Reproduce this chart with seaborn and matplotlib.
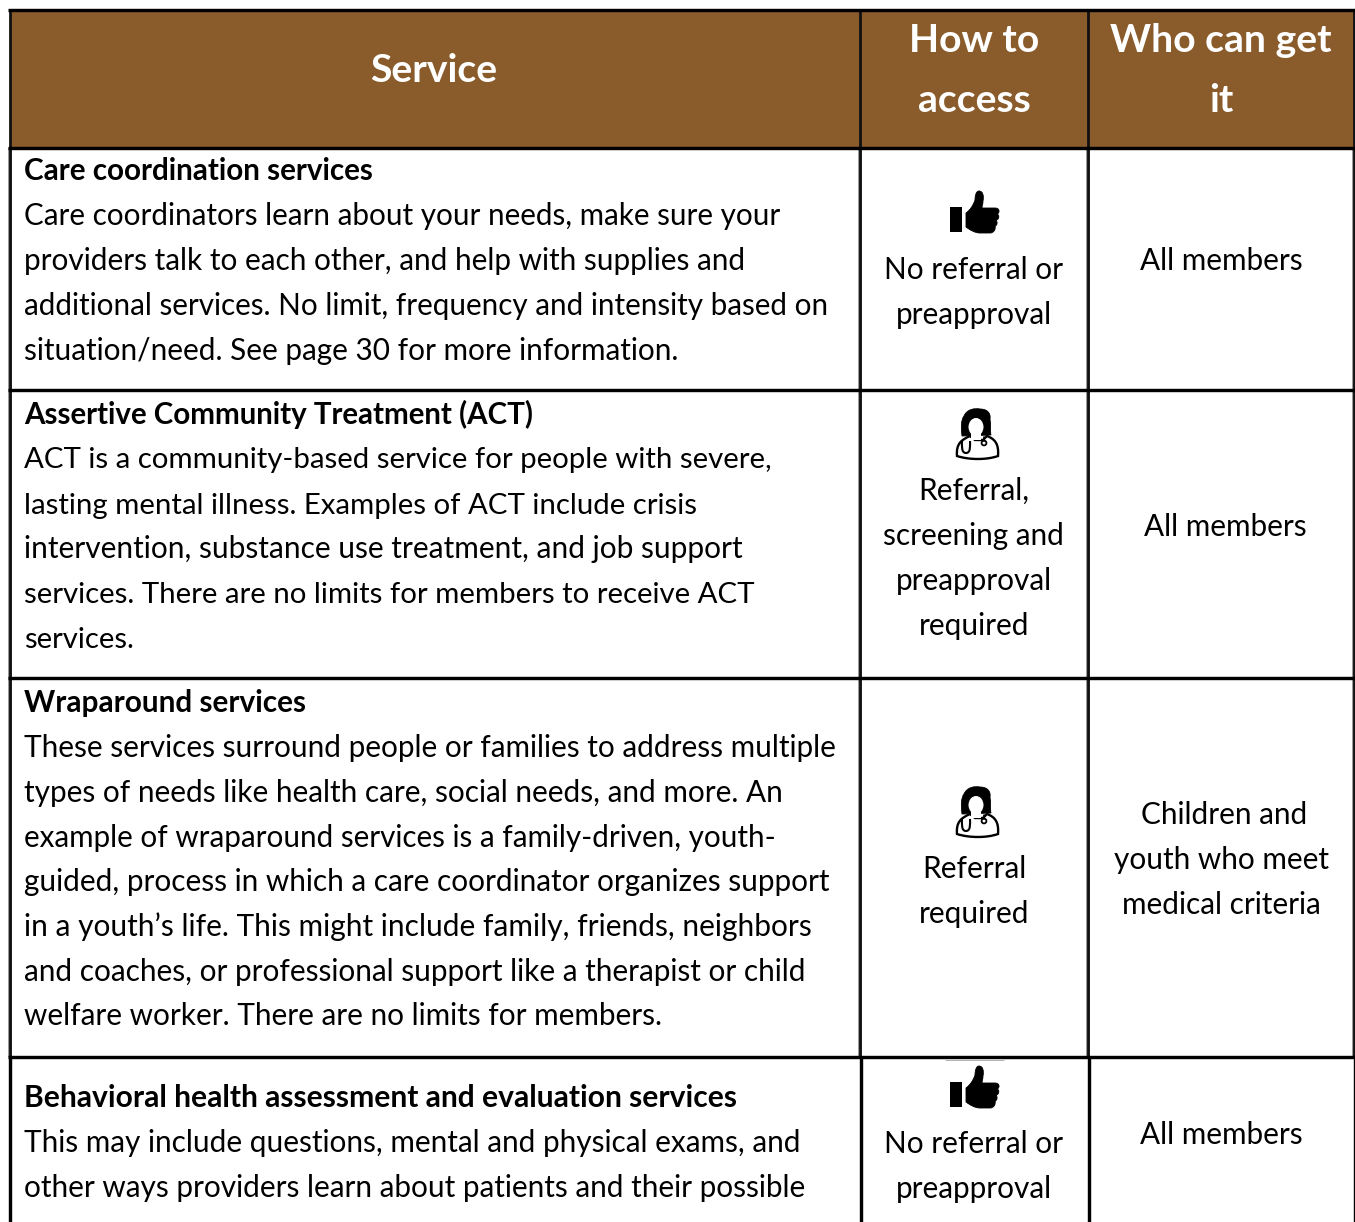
import matplotlib
matplotlib.use("Agg")
import matplotlib.pyplot as plt
import seaborn as sns
from matplotlib.colors import ListedColormap
from matplotlib.path import Path
from matplotlib.patches import PathPatch, Circle, Ellipse

W, H = 1355, 1222
sns.set_theme(style="white")
plt.rcParams['font.family'] = ['Lato', 'DejaVu Sans']

BROWN = "#8A5C2C"
col_edges = [9.5, 860, 1088, 1354]
row_edges = [10, 147.5, 390, 678, 1057]

header = [("Service", 434, [82]), ("How to", 974, [52]), ("access", 974, [112]),
          ("Who can get", 1221, [52]), ("it", 1221, [112])]

# baseline, text, bold, right end of the line
service_lines = [
    (180, "Care coordination services", True, 374),
    (225, "Care coordinators learn about your needs, make sure your", False, 781),
    (270, "providers talk to each other, and help with supplies and", False, 746),
    (315, "additional services. No limit, frequency and intensity based on", False, 830),
    (360, "situation/need. See page 30 for more information.", False, 678),
    (424, "Assertive Community Treatment (ACT)", True, 534),
    (468, "ACT is a community-based service for people with severe,", False, 772),
    (514, "lasting mental illness. Examples of ACT include crisis", False, 698),
    (558, "intervention, substance use treatment, and job support", False, 744),
    (603, "services. There are no limits for members to receive ACT", False, 756),
    (648, "services.", False, 134),
    (712, "Wraparound services", True, 306),
    (757, "These services surround people or families to address multiple", False, 835),
    (802, "types of needs like health care, social needs, and more. An", False, 783),
    (847, "example of wraparound services is a family-driven, youth-", False, 775),
    (891, "guided, process in which a care coordinator organizes support", False, 829),
    (936, "in a youth\u2019s life. This might include family, friends, neighbors", False, 811),
    (981, "and coaches, or professional support like a therapist or child", False, 806),
    (1025, "welfare worker. There are no limits for members.", False, 664),
    (1107, "Behavioral health assessment and evaluation services", True, 737),
    (1152, "This may include questions, mental and physical exams, and", False, 802),
    (1197, "other ways providers learn about patients and their possible", False, 807),
]

access_lines = [
    (974, 279, "No referral or"), (974, 324, "preapproval"),
    (974, 500, "Referral,"), (973, 545, "screening and"),
    (974, 590, "preapproval"), (974, 635, "required"),
    (974, 878, "Referral"), (974, 923, "required"),
    (974, 1153, "No referral or"), (974, 1198, "preapproval"),
]

who_lines = [
    (1221, 270, "All members"), (1225, 536, "All members"),
    (1224, 824, "Children and"), (1221, 869, "youth who meet"),
    (1221, 914, "medical criteria"), (1221, 1144, "All members"),
]

thumb_icons = [(975, 213), (975, 1088)]
doctor_icons = [(975, 435), (975, 813)]

BODY_PT = 21.4
HEAD_PT = 28.2
TITLE_PT = 21.4

fig = plt.figure(figsize=(W / 100, H / 100), dpi=100, facecolor="white")
ax = fig.add_axes([0, 0, 1, 1])
ax.set_xlim(0, W)
ax.set_ylim(H, 0)
ax.axis("off")

# header band as a one-cell seaborn heatmap, in its own axes
hx0, hx1 = col_edges[0], col_edges[-1]
hy0, hy1 = row_edges[0], row_edges[1]
hax = fig.add_axes([hx0 / W, 1 - hy1 / H, (hx1 - hx0) / W, (hy1 - hy0) / H], zorder=0)
sns.heatmap([[1]], ax=hax, cmap=ListedColormap([BROWN]), cbar=False,
            xticklabels=False, yticklabels=False)
ax.set_zorder(1)
ax.patch.set_visible(False)

px = 72 / 100
# vertical rules: soft grey halo around a dark core above the last row, solid black below it
split = row_edges[-1]
for x in col_edges:
    ax.plot([x, x], [row_edges[1], split], color="#9a9a9a", lw=4 * px, solid_capstyle="butt")
    ax.plot([x, x], [row_edges[0], split], color="#111111", lw=2.8 * px, solid_capstyle="butt")
    ax.plot([x + 0.5, x + 0.5], [split, H], color="black", lw=3.4 * px, solid_capstyle="butt")
for y in row_edges:
    ax.plot([col_edges[0] - 2, W], [y, y], color="black", lw=3.4 * px, solid_capstyle="butt")
# faint mark under the last rule, as in the reference
ax.plot([945, 1004], [1059.5, 1059.5], color="#b5b5b5", lw=1 * px, solid_capstyle="butt")

for s, x, ys in header:
    for y in ys:
        ax.text(x, y, s, color="white", fontsize=HEAD_PT, fontweight="bold", ha="center", va="baseline")

renderer = fig.canvas.get_renderer()
for y, s, bold, right in service_lines:
    size = TITLE_PT if bold else BODY_PT
    t = ax.text(24, y, s, color="black", fontsize=size,
                fontweight="bold" if bold else "normal", ha="left", va="baseline")
    t.set_fontsize(size * (right - 24) / t.get_window_extent(renderer).width)
for x, y, s in access_lines + who_lines:
    ax.text(x, y, s, color="black", fontsize=BODY_PT, ha="center", va="baseline")

M, L, C, Z = Path.MOVETO, Path.LINETO, Path.CURVE4, Path.CLOSEPOLY


def thumb(cx, cy):
    ax.add_patch(plt.Rectangle((cx - 25, cy - 6), 12, 25, color="black", lw=0))
    segs = [
        (M, [(-9, 0)]),
        (C, [(-5, -3), (-2, -7), (0, -13)]),
        (C, [(0, -17), (1, -22), (4, -22)]),
        (C, [(8, -22), (9, -17), (8, -12)]),
        (C, [(8, -9), (7, -7), (7, -5)]),
        (L, [(20, -5)]),
        (C, [(25, -5), (25, 0), (22, 1)]),
        (C, [(25, 2), (24, 7), (21, 7)]),
        (C, [(23, 9), (22, 13), (20, 13)]),
        (C, [(21, 16), (19, 20), (15, 20)]),
        (L, [(5, 20)]),
        (C, [(0, 20), (-5, 17), (-9, 14)]),
    ]
    v, codes = [], []
    for code, pts in segs:
        for p in pts:
            v.append((cx + p[0], cy + p[1]))
            codes.append(code)
    v.append(v[0])
    codes.append(Z)
    ax.add_patch(PathPatch(Path(v, codes), fc="black", ec="black", lw=0.6))


def doctor(cx, cy):
    # shoulders
    v = [(-18, 21), (-19, 9), (-14, 5), (-5, 1), (0, 5), (8, 5), (12, 1),
         (20, 4), (24, 9), (23, 21), (12, 25), (-6, 25), (-18, 21), (-18, 21)]
    codes = [M, C, C, C, L, L, L, C, C, C, C, C, C, Z]
    ax.add_patch(PathPatch(Path([(cx + a, cy + b) for a, b in v], codes), fc="white", ec="black", lw=1.7))
    # hair
    v = [(-13, 1), (-14, -8), (-14, -15), (-11, -19), (-8, -26), (0, -27), (5, -26),
         (12, -26), (16, -22), (15, -16), (16, -10), (15, -4), (16, 0), (-13, 1), (-13, 1)]
    codes = [M, C, C, C, C, C, C, C, C, C, C, C, C, L, Z]
    ax.add_patch(PathPatch(Path([(cx + a, cy + b) for a, b in v], codes), fc="black", ec="black", lw=0.6))
    # face and neck
    ax.add_patch(Ellipse((cx + 1, cy - 8), 15, 18, fc="white", ec="none"))
    ax.add_patch(plt.Rectangle((cx - 4, cy - 3), 10, 8, fc="white", ec="none"))
    # stethoscope
    u = [(-13, 6), (-13, 10), (-14, 18), (-9, 18), (-4, 18), (-5, 10), (-5, 6)]
    ax.add_patch(PathPatch(Path([(cx + a, cy + b) for a, b in u], [M, C, C, C, C, C, C]),
                           fc="none", ec="black", lw=1.5))
    ax.plot([cx + 9, cx + 9], [cy + 2, cy + 6], color="black", lw=1.2)
    ax.add_patch(Circle((cx + 9, cy + 8), 2.4, fc="white", ec="black", lw=1.3))


for p in thumb_icons:
    thumb(*p)
for p in doctor_icons:
    doctor(*p)

fig.savefig("out.png", dpi=100)
